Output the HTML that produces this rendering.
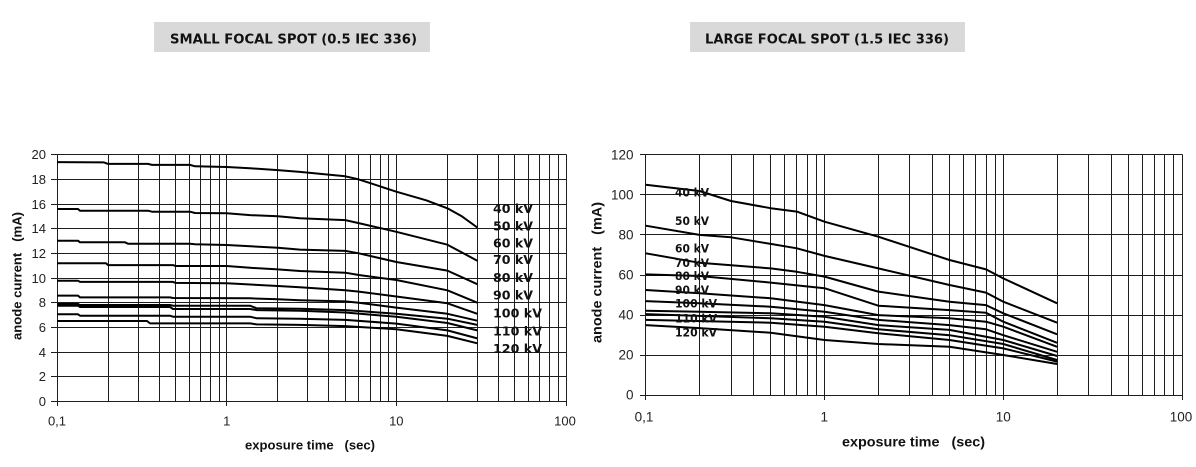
<!DOCTYPE html>
<html><head><meta charset="utf-8"><style>
html,body{margin:0;padding:0;background:#fff;}
svg{display:block;}
.t{font-family:"Liberation Sans",Arial,sans-serif;fill:#222;}
.b{font-family:"Liberation Sans",Arial,sans-serif;font-weight:bold;fill:#111;white-space:pre;}
.v{font-family:"DejaVu Sans","Liberation Sans",sans-serif;font-weight:bold;fill:#111;}
</style></head><body>
<svg width="1196" height="467" viewBox="0 0 1196 467" xmlns="http://www.w3.org/2000/svg">
<rect width="1196" height="467" fill="#fff"/>
<!-- Titles -->
<rect x="154" y="22" width="276" height="30" fill="#d9d9d9"/>
<text class="v" x="170" y="43.5" font-size="13" textLength="247" lengthAdjust="spacingAndGlyphs">SMALL FOCAL SPOT (0.5 IEC 336)</text>
<rect x="690" y="22" width="275" height="30" fill="#d9d9d9"/>
<text class="v" x="705" y="43.5" font-size="13" textLength="244" lengthAdjust="spacingAndGlyphs">LARGE FOCAL SPOT (1.5 IEC 336)</text>

<!-- LEFT CHART GRID -->
<g stroke="#1e1e1e" stroke-width="1" shape-rendering="crispEdges" fill="none">
<path d="M57.5 154.5V401.5M108.5 154.5V401.5M138.5 154.5V401.5M159.5 154.5V401.5M175.5 154.5V401.5M189.5 154.5V401.5M200.5 154.5V401.5M210.5 154.5V401.5M219.5 154.5V401.5M226.5 154.5V401.5M277.5 154.5V401.5M307.5 154.5V401.5M328.5 154.5V401.5M345.5 154.5V401.5M358.5 154.5V401.5M370.5 154.5V401.5M380.5 154.5V401.5M388.5 154.5V401.5M396.5 154.5V401.5M447.5 154.5V401.5M477.5 154.5V401.5M498.5 154.5V401.5M514.5 154.5V401.5M528.5 154.5V401.5M539.5 154.5V401.5M549.5 154.5V401.5M558.5 154.5V401.5M566.5 154.5V401.5"/>
<path d="M57.5 154.5H566.5M57.5 179.5H566.5M57.5 204.5H566.5M57.5 228.5H566.5M57.5 253.5H566.5M57.5 278.5H566.5M57.5 302.5H566.5M57.5 327.5H566.5M57.5 352.5H566.5M57.5 376.5H566.5M57.5 401.5H566.5"/>
<path d="M51 154.5H57.5M51 179.5H57.5M51 204.5H57.5M51 228.5H57.5M51 253.5H57.5M51 278.5H57.5M51 302.5H57.5M51 327.5H57.5M51 352.5H57.5M51 376.5H57.5M51 401.5H57.5"/>
<path d="M57.5 401.5V406M226.5 401.5V406M396.5 401.5V406M566.5 401.5V406"/>
</g>
<!-- left tick labels -->
<g class="t" font-size="13" text-anchor="end">
<text x="46" y="159">20</text><text x="46" y="184">18</text><text x="46" y="209">16</text><text x="46" y="233">14</text><text x="46" y="258">12</text><text x="46" y="283">10</text><text x="46" y="307">8</text><text x="46" y="332">6</text><text x="46" y="357">4</text><text x="46" y="381">2</text><text x="46" y="406">0</text>
</g>
<g class="t" font-size="13" text-anchor="middle">
<text x="57" y="425.5">0,1</text><text x="226.7" y="425.5">1</text><text x="396.3" y="425.5">10</text><text x="565" y="425.5">100</text>
</g>
<text class="b" x="245" y="449.5" font-size="13" textLength="130" lengthAdjust="spacingAndGlyphs">exposure time   (sec)</text>
<text class="b" transform="translate(21.3,276) rotate(-90)" text-anchor="middle" font-size="13" textLength="128" lengthAdjust="spacingAndGlyphs">anode current   (mA)</text>

<!-- left curves -->
<g fill="none" stroke="#000" stroke-width="2" stroke-linejoin="round">
<polyline points="57,162.1 104,162.4 108.1,163.9 148,163.9 152,164.9 190,164.9 195,166.3 226.7,167.0 250,168.3 277.8,170.1 299.9,171.9 345.3,176.3 358.7,179.4 370.1,183.1 396.3,191.7 426.2,200.3 447.4,208.3 462,216.4 477.3,227.5"/>
<polyline points="57,209.0 78,209.0 80,210.7 148,210.7 152,211.7 190,211.7 195,213.0 226.7,213.3 250,215.1 277.8,216.3 299.9,218.2 345.3,220.1 358.7,223.1 396.3,231.8 447.4,244.7 477.3,260.7"/>
<polyline points="57,240.7 78,240.7 80,242.3 125,242.3 128,243.7 190,243.7 195,244.3 226.7,245.0 277.8,247.7 299.9,249.6 345.3,250.9 358.7,253.3 396.3,262.0 447.4,270.6 477.3,284.2"/>
<polyline points="57,263.2 106,263.2 108.1,265.1 173,265.1 175.6,266.0 226.7,266.0 250,267.8 277.8,269.4 299.9,271.0 345.3,272.7 358.7,275.0 396.3,280.0 447.4,290.3 477.3,302.7"/>
<polyline points="57,280.7 78,280.7 80,281.9 173,281.9 175.6,282.9 226.7,283.3 277.8,286.0 299.9,287.2 345.3,290.3 358.7,291.6 396.3,296.5 447.4,303.3 477.3,313.8"/>
<polyline points="57,295.6 78,295.6 80,297.4 170,297.4 173,298.0 250,298.3 277.8,299.3 299.9,300.2 345.3,301.4 358.7,302.7 396.3,307.6 447.4,313.8 477.3,320.7"/>
<polyline points="57,304.0 78,304.0 80,305.0 170,305.0 173,305.7 250,305.7 256.7,308.3 299.9,308.8 345.3,310.1 358.7,311.0 396.3,313.8 447.4,318.7 477.3,324.9"/>
<polyline points="57,305.7 78,305.7 80,307.0 170,307.0 173,309.0 250,309.0 256.7,310.1 299.9,310.7 345.3,312.5 396.3,316.8 447.4,323.0 477.3,330.4"/>
<polyline points="57,314.3 78,314.3 80,315.7 170,315.7 173,316.7 250,316.7 256.7,318.3 299.9,318.7 345.3,319.9 396.3,323.6 447.4,330.4 477.3,338.4"/>
<polyline points="57,321.0 147,321.0 150,323.4 250,323.4 256.7,324.4 299.9,324.9 345.3,326.1 396.3,329.2 447.4,335.9 477.3,343.3"/>
</g>
<!-- left labels -->
<g class="v" font-size="12.5">
<text x="493" y="213" textLength="40" lengthAdjust="spacingAndGlyphs">40 kV</text>
<text x="493" y="230.5" textLength="40" lengthAdjust="spacingAndGlyphs">50 kV</text>
<text x="493" y="247.3" textLength="40" lengthAdjust="spacingAndGlyphs">60 kV</text>
<text x="493" y="264" textLength="40" lengthAdjust="spacingAndGlyphs">70 kV</text>
<text x="493" y="282" textLength="40" lengthAdjust="spacingAndGlyphs">80 kV</text>
<text x="493" y="299.7" textLength="40" lengthAdjust="spacingAndGlyphs">90 kV</text>
<text x="493" y="317.4" textLength="49" lengthAdjust="spacingAndGlyphs">100 kV</text>
<text x="493" y="335.7" textLength="49" lengthAdjust="spacingAndGlyphs">110 kV</text>
<text x="493" y="353" textLength="49" lengthAdjust="spacingAndGlyphs">120 kV</text>
</g>

<!-- RIGHT CHART GRID -->
<g stroke="#1e1e1e" stroke-width="1" shape-rendering="crispEdges" fill="none">
<path d="M645.5 154.5V395.5M699.5 154.5V395.5M731.5 154.5V395.5M753.5 154.5V395.5M770.5 154.5V395.5M784.5 154.5V395.5M796.5 154.5V395.5M807.5 154.5V395.5M816.5 154.5V395.5M824.5 154.5V395.5M878.5 154.5V395.5M909.5 154.5V395.5M932.5 154.5V395.5M949.5 154.5V395.5M963.5 154.5V395.5M975.5 154.5V395.5M986.5 154.5V395.5M995.5 154.5V395.5M1003.5 154.5V395.5M1057.5 154.5V395.5M1088.5 154.5V395.5M1111.5 154.5V395.5M1128.5 154.5V395.5M1142.5 154.5V395.5M1154.5 154.5V395.5M1164.5 154.5V395.5M1173.5 154.5V395.5M1182.5 154.5V395.5"/>
<path d="M645.5 154.5H1182.5M645.5 194.5H1182.5M645.5 234.5H1182.5M645.5 275.5H1182.5M645.5 315.5H1182.5M645.5 355.5H1182.5M645.5 395.5H1182.5"/>
<path d="M640 154.5H645.5M640 194.5H645.5M640 234.5H645.5M640 275.5H645.5M640 315.5H645.5M640 355.5H645.5M640 395.5H645.5"/>
<path d="M645.5 395.5V400M824.5 395.5V400M1003.5 395.5V400M1182.5 395.5V400"/>
</g>
<g class="t" font-size="13.5" text-anchor="end">
<text x="633.5" y="159.5">120</text><text x="633.5" y="199.5">100</text><text x="633.5" y="239.5">80</text><text x="633.5" y="279.5">60</text><text x="633.5" y="319.5">40</text><text x="633.5" y="359.5">20</text><text x="633.5" y="399.5">0</text>
</g>
<g class="t" font-size="13.5" text-anchor="middle">
<text x="644" y="421.5">0,1</text><text x="824.3" y="421.5">1</text><text x="1003.3" y="421.5">10</text><text x="1181" y="421.5">100</text>
</g>
<text class="b" x="842" y="446.5" font-size="14" textLength="143" lengthAdjust="spacingAndGlyphs">exposure time   (sec)</text>
<text class="b" transform="translate(601.5,272.5) rotate(-90)" text-anchor="middle" font-size="14" textLength="141" lengthAdjust="spacingAndGlyphs">anode current   (mA)</text>

<!-- right curves -->
<g fill="none" stroke="#000" stroke-width="2" stroke-linejoin="round">
<polyline points="645.7,184.8 699.5,191.0 731.0,201.0 770.7,208.2 796.8,211.6 824.5,221.7 878.3,236.7 949.5,260.0 986.0,269.4 1003.3,278.4 1057.1,303.3"/>
<polyline points="645.7,225.7 699.5,234.9 731.0,237.3 770.7,243.9 796.8,248.3 824.5,255.9 878.3,268.4 949.5,285.0 986.0,292.6 1003.3,301.7 1057.1,322.7"/>
<polyline points="645.7,253.3 699.5,262.8 770.7,268.4 796.8,271.8 824.5,276.6 878.3,291.6 949.5,301.7 986.0,305.1 1003.3,313.3 1057.1,334.3"/>
<polyline points="645.7,274.4 699.5,276.0 770.7,282.6 824.5,288.2 878.3,305.7 949.5,310.1 986.0,312.7 1003.3,321.7 1057.1,342.8"/>
<polyline points="645.7,290.0 699.5,293.2 770.7,298.3 824.5,305.1 878.3,315.1 949.5,318.3 986.0,321.7 1003.3,326.7 1057.1,346.8"/>
<polyline points="645.7,301.1 699.5,303.3 770.7,306.7 824.5,311.7 878.3,319.9 949.5,325.1 986.0,329.3 1003.3,335.2 1057.1,351.8"/>
<polyline points="645.7,310.7 699.5,311.7 770.7,313.3 824.5,316.7 878.3,325.1 949.5,329.9 1003.3,340.0 1057.1,356.0"/>
<polyline points="645.7,314.1 770.7,318.3 824.5,321.7 878.3,329.3 949.5,335.2 1003.3,344.0 1057.1,360.0"/>
<polyline points="645.7,319.9 770.7,322.7 824.5,326.7 878.3,333.3 949.5,340.0 1003.3,348.4 1057.1,361.6"/>
<polyline points="645.7,325.1 699.5,328.1 770.7,332.7 824.5,340.0 878.3,344.0 949.5,346.8 1003.3,355.0 1057.1,364.0"/>
</g>
<g class="v" font-size="11.5">
<text x="675" y="196.5" textLength="34" lengthAdjust="spacingAndGlyphs">40 kV</text>
<text x="675" y="225.2" textLength="34" lengthAdjust="spacingAndGlyphs">50 kV</text>
<text x="675" y="252.5" textLength="34" lengthAdjust="spacingAndGlyphs">60 kV</text>
<text x="675" y="266.9" textLength="34" lengthAdjust="spacingAndGlyphs">70 kV</text>
<text x="675" y="279.9" textLength="34" lengthAdjust="spacingAndGlyphs">80 kV</text>
<text x="675" y="294.2" textLength="34" lengthAdjust="spacingAndGlyphs">90 kV</text>
<text x="675" y="307.5" textLength="42" lengthAdjust="spacingAndGlyphs">100 kV</text>
<text x="675" y="322.5" textLength="42" lengthAdjust="spacingAndGlyphs">110 kV</text>
<text x="675" y="336.5" textLength="42" lengthAdjust="spacingAndGlyphs">120 kV</text>
</g>
</svg>
</body></html>
